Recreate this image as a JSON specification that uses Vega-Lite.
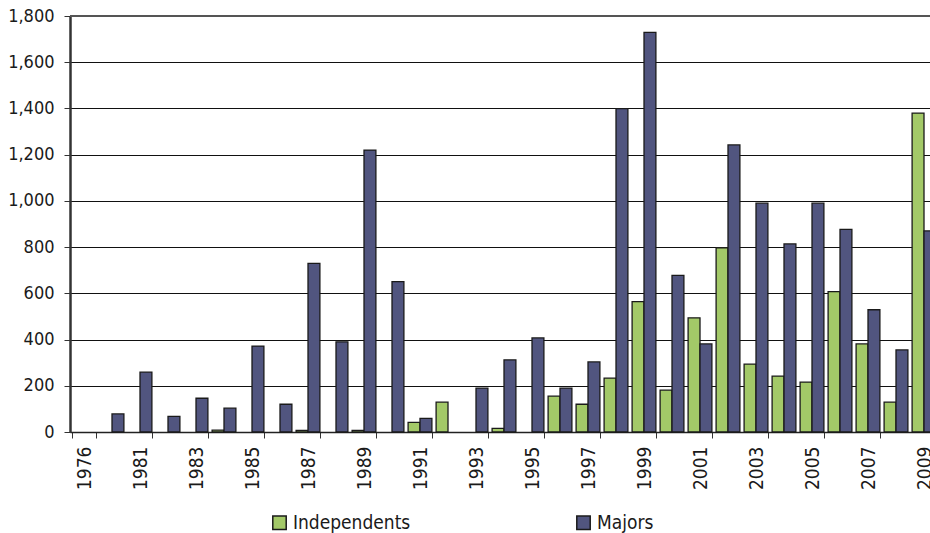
{
  "$schema": "https://vega.github.io/schema/vega-lite/v6.json",
  "width": 860,
  "height": 416,
  "autosize": {"type": "none"},
  "padding": {"left": 70, "top": 16, "right": 0, "bottom": 101},
  "background": "white",
  "config": {
    "view": {"stroke": null},
    "font": "DejaVu Sans Condensed, Liberation Sans, sans-serif",
    "axis": {"labelFont": "DejaVu Sans Condensed, Liberation Sans, sans-serif", "labelColor": "#1a1a1a"},
    "legend": {"labelFont": "DejaVu Sans Condensed, Liberation Sans, sans-serif"}
  },
  "data": {
    "values": [
      {"year": "1976", "type": "Independents", "value": 0},
      {"year": "1976", "type": "Majors", "value": 0},
      {"year": "1980", "type": "Independents", "value": 0},
      {"year": "1980", "type": "Majors", "value": 78},
      {"year": "1981", "type": "Independents", "value": 0},
      {"year": "1981", "type": "Majors", "value": 259},
      {"year": "1982", "type": "Independents", "value": 0},
      {"year": "1982", "type": "Majors", "value": 68},
      {"year": "1983", "type": "Independents", "value": 0},
      {"year": "1983", "type": "Majors", "value": 146},
      {"year": "1984", "type": "Independents", "value": 8},
      {"year": "1984", "type": "Majors", "value": 103},
      {"year": "1985", "type": "Independents", "value": 0},
      {"year": "1985", "type": "Majors", "value": 372},
      {"year": "1986", "type": "Independents", "value": 0},
      {"year": "1986", "type": "Majors", "value": 120},
      {"year": "1987", "type": "Independents", "value": 7},
      {"year": "1987", "type": "Majors", "value": 730},
      {"year": "1988", "type": "Independents", "value": 0},
      {"year": "1988", "type": "Majors", "value": 390},
      {"year": "1989", "type": "Independents", "value": 7},
      {"year": "1989", "type": "Majors", "value": 1220},
      {"year": "1990", "type": "Independents", "value": 0},
      {"year": "1990", "type": "Majors", "value": 651},
      {"year": "1991", "type": "Independents", "value": 42},
      {"year": "1991", "type": "Majors", "value": 59},
      {"year": "1992", "type": "Independents", "value": 129},
      {"year": "1992", "type": "Majors", "value": 0},
      {"year": "1993", "type": "Independents", "value": 0},
      {"year": "1993", "type": "Majors", "value": 190},
      {"year": "1994", "type": "Independents", "value": 16},
      {"year": "1994", "type": "Majors", "value": 312},
      {"year": "1995", "type": "Independents", "value": 0},
      {"year": "1995", "type": "Majors", "value": 407},
      {"year": "1996", "type": "Independents", "value": 155},
      {"year": "1996", "type": "Majors", "value": 190},
      {"year": "1997", "type": "Independents", "value": 120},
      {"year": "1997", "type": "Majors", "value": 303},
      {"year": "1998", "type": "Independents", "value": 233},
      {"year": "1998", "type": "Majors", "value": 1399},
      {"year": "1999", "type": "Independents", "value": 564},
      {"year": "1999", "type": "Majors", "value": 1729},
      {"year": "2000", "type": "Independents", "value": 181},
      {"year": "2000", "type": "Majors", "value": 678},
      {"year": "2001", "type": "Independents", "value": 494},
      {"year": "2001", "type": "Majors", "value": 381},
      {"year": "2002", "type": "Independents", "value": 797},
      {"year": "2002", "type": "Majors", "value": 1242},
      {"year": "2003", "type": "Independents", "value": 294},
      {"year": "2003", "type": "Majors", "value": 990},
      {"year": "2004", "type": "Independents", "value": 242},
      {"year": "2004", "type": "Majors", "value": 814},
      {"year": "2005", "type": "Independents", "value": 216},
      {"year": "2005", "type": "Majors", "value": 990},
      {"year": "2006", "type": "Independents", "value": 607},
      {"year": "2006", "type": "Majors", "value": 877},
      {"year": "2007", "type": "Independents", "value": 381},
      {"year": "2007", "type": "Majors", "value": 529},
      {"year": "2008", "type": "Independents", "value": 129},
      {"year": "2008", "type": "Majors", "value": 355},
      {"year": "2009", "type": "Independents", "value": 1380},
      {"year": "2009", "type": "Majors", "value": 870}
    ]
  },
  "layer": [
    {
      "transform": [{"filter": "datum.value > 0"}],
      "mark": {"type": "bar", "stroke": "#1a1a1a", "strokeWidth": 1.3},
      "encoding": {
        "x": {
          "field": "year",
          "type": "ordinal",
          "scale": {"domain": ["1976","1980","1981","1982","1983","1984","1985","1986","1987","1988","1989","1990","1991","1992","1993","1994","1995","1996","1997","1998","1999","2000","2001","2002","2003","2004","2005","2006","2007","2008","2009"], "range": [0, 868], "paddingInner": 0.15, "paddingOuter": 0.075},
          "axis": {
            "title": null,
            "values": ["1976","1981","1983","1985","1987","1989","1991","1993","1995","1997","1999","2001","2003","2005","2007","2009"],
            "labelAngle": 270,
            "labelFontSize": 19,
            "labelPadding": 8,
            "tickBand": "extent",
            "tickSize": 6,
            "tickColor": "#333333",
            "domainColor": "#222222",
            "domainWidth": 1.5,
            "grid": false
          }
        },
        "xOffset": {
          "field": "type",
          "type": "nominal",
          "sort": ["Independents", "Majors"],
          "scale": {"domain": ["Independents", "Majors"], "paddingInner": 0, "paddingOuter": 0}
        },
        "y": {
          "field": "value",
          "type": "quantitative",
          "scale": {"domain": [0, 1800], "nice": false},
          "axis": {
            "title": null,
            "values": [0, 200, 400, 600, 800, 1000, 1200, 1400, 1600, 1800],
            "format": ",d",
            "labelFontSize": 18,
            "labelPadding": 10,
            "tickSize": 6,
            "tickColor": "#333333",
            "domainColor": "#333333",
            "domainWidth": 2.5,
            "grid": true,
            "gridColor": "#111111",
            "gridWidth": 1,
            "gridOpacity": 1
          }
        },
        "fill": {
          "field": "type",
          "type": "nominal",
          "scale": {"domain": ["Independents", "Majors"], "range": ["#A3C968", "#51557F"]},
          "legend": {
            "title": null,
            "orient": "none",
            "legendX": 200,
            "legendY": 497,
            "direction": "horizontal",
            "symbolType": "square",
            "symbolSize": 180,
            "symbolStrokeColor": "#1a1a1a",
            "symbolStrokeWidth": 1.5,
            "labelFontSize": 19,
            "labelColor": "#1a1a1a",
            "labelOffset": 4,
            "labelLimit": 300,
            "columnPadding": 162,
            "padding": 0
          }
        }
      }
    },
    {
      "mark": {"type": "rule", "color": "#555555", "strokeWidth": 2},
      "encoding": {"y": {"datum": 1800}}
    }
  ]
}
